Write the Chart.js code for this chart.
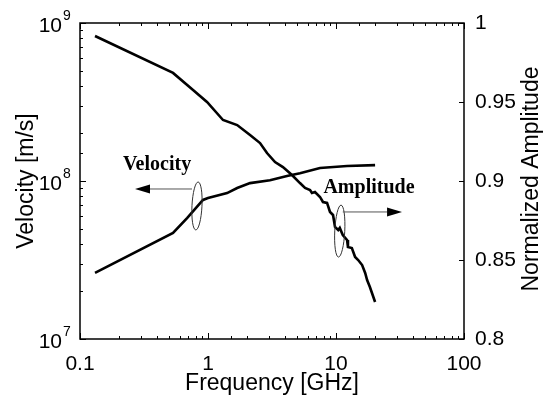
<!DOCTYPE html>
<html>
<head>
<meta charset="utf-8">
<script src="https://cdn.jsdelivr.net/npm/chart.js@4"></script>
<style>
  html, body { margin: 0; padding: 0; background: #fff; }
  #wrap { width: 545px; height: 397px; }
</style>
</head>
<body>
<div id="wrap"><canvas id="freqChart"></canvas></div>
<script>
// values
const velFreq = [0.131, 0.533, 0.686, 0.914, 1.0, 1.41, 1.69, 2.13, 3.05, 4.14, 5.23, 7.5, 12.2, 20.2];
const velocity = [2.62e7, 4.69e7, 5.83e7, 7.59e7, 7.8e7, 8.39e7, 9.03e7, 9.7e7, 1.01e8, 1.076e8, 1.12e8, 1.21e8, 1.245e8, 1.26e8];

const ampFreq = [0.131, 0.533, 0.764, 0.982, 1.31, 1.69, 2.13, 2.55, 2.89, 3.34, 3.85, 4.53, 5.23, 5.73, 6.27, 6.49, 6.85,
  7.50, 7.91, 8.51, 8.98, 9.48, 9.82, 10.4, 10.7, 11.3, 12.2, 12.4, 13.3, 14.1, 14.9, 16.0, 16.9, 17.5, 18.4, 19.1, 20.2];
const amplitude = [0.9918, 0.9684, 0.9576, 0.9500, 0.9386, 0.9354, 0.9291, 0.9240, 0.9177, 0.9120, 0.9088, 0.9038, 0.8987, 0.8956, 0.8943, 0.8924, 0.8930,
  0.8899, 0.8867, 0.8861, 0.8804, 0.8785, 0.8709, 0.8690, 0.8703, 0.8658, 0.8627, 0.8582, 0.8576, 0.8519, 0.8500, 0.8468, 0.8418, 0.8373, 0.8329, 0.8291, 0.8234];

const xTickLabels = [0.1, 1, 10, 100];
const velTickExp = [7, 8, 9];
const ampTicks = [0.8, 0.85, 0.9, 0.95, 1];
const ampTitle = 'Normalized Amplitude';

// callouts, in data coordinates
const velNote = { label: 'Velocity', axis: 'y', text: [0.40, 1.26e8], ring: [0.82, 6.95e7], from: [0.75, 8.9e7], to: [0.269, 8.9e7], ry: 24 };
const ampNote = { label: 'Amplitude', axis: 'y2', text: [18.1, 0.8956], ring: [10.7, 0.8683], from: [11.3, 0.8804], to: [32.8, 0.8804], ry: 26 };

const sans = '"Liberation Sans", Arial, sans-serif';

function isDecade(v) {
  const l = Math.log10(v);
  return Math.abs(l - Math.round(l)) < 1e-6;
}

function toXY(xs, ys) {
  return xs.map((x, i) => ({ x: x, y: ys[i] }));
}

const frameTicks = {
  id: 'frameTicks',
  afterDraw(chart) {
    const ctx = chart.ctx;
    const a = chart.chartArea;
    const xs = chart.scales.x, ys = chart.scales.y, y2 = chart.scales.y2;
    ctx.save();
    ctx.strokeStyle = '#000';
    ctx.lineWidth = 1.5;
    ctx.strokeRect(a.left, a.top, a.right - a.left, a.bottom - a.top);

    ctx.lineWidth = 1;
    ctx.beginPath();
    xs.ticks.forEach(t => {
      const px = Math.round(xs.getPixelForValue(t.value)) + 0.5;
      const len = isDecade(t.value) ? 6 : 3;
      ctx.moveTo(px, a.bottom); ctx.lineTo(px, a.bottom - len);
      ctx.moveTo(px, a.top); ctx.lineTo(px, a.top + len);
    });
    ys.ticks.forEach(t => {
      const py = Math.round(ys.getPixelForValue(t.value)) + 0.5;
      const len = isDecade(t.value) ? 6 : 3;
      ctx.moveTo(a.left, py); ctx.lineTo(a.left + len, py);
    });
    y2.ticks.forEach(t => {
      const py = Math.round(y2.getPixelForValue(t.value)) + 0.5;
      ctx.moveTo(a.right, py); ctx.lineTo(a.right - 5, py);
    });
    ctx.stroke();

    // left tick labels 10^n
    ctx.fillStyle = '#000';
    velTickExp.forEach(e => {
      const py = ys.getPixelForValue(Math.pow(10, e));
      ctx.font = '21px ' + sans;
      ctx.textAlign = 'right';
      ctx.textBaseline = 'middle';
      ctx.fillText('10', a.left - 18, py + 3);
      ctx.font = '14px ' + sans;
      ctx.textAlign = 'left';
      ctx.fillText(String(e), a.left - 17, py - 7);
    });

    // right axis title reads bottom-to-top like the left one
    ctx.translate(y2.right - 13, (a.top + a.bottom) / 2 - 2);
    ctx.rotate(-Math.PI / 2);
    ctx.font = '23px ' + sans;
    ctx.textAlign = 'center';
    ctx.textBaseline = 'middle';
    ctx.fillText(ampTitle, 0, 0);
    ctx.restore();
  }
};

function drawNote(chart, n) {
  const ctx = chart.ctx;
  const xs = chart.scales.x, ys = chart.scales[n.axis];
  const pt = p => [xs.getPixelForValue(p[0]), ys.getPixelForValue(p[1])];
  const t = pt(n.text), r = pt(n.ring), f = pt(n.from), e = pt(n.to);
  ctx.save();
  ctx.fillStyle = '#000';
  ctx.font = 'bold 20px "Liberation Serif", "Times New Roman", serif';
  ctx.textAlign = 'center';
  ctx.textBaseline = 'middle';
  ctx.fillText(n.label, t[0], t[1]);

  ctx.strokeStyle = '#333';
  ctx.lineWidth = 1;
  ctx.beginPath();
  ctx.ellipse(r[0], r[1], 5, n.ry, 0.05, 0, Math.PI * 2);
  ctx.stroke();

  const dir = Math.sign(e[0] - f[0]);
  const head = 15;
  ctx.strokeStyle = '#555';
  ctx.beginPath();
  ctx.moveTo(f[0], f[1]);
  ctx.lineTo(e[0] - dir * head, e[1]);
  ctx.stroke();
  ctx.beginPath();
  ctx.moveTo(e[0], e[1]);
  ctx.lineTo(e[0] - dir * head, e[1] - 4.5);
  ctx.lineTo(e[0] - dir * head, e[1] + 4.5);
  ctx.closePath();
  ctx.fill();
  ctx.restore();
}

const callouts = {
  id: 'callouts',
  afterDatasetsDraw(chart) {
    drawNote(chart, velNote);
    drawNote(chart, ampNote);
  }
};

new Chart(document.getElementById('freqChart'), {
  type: 'line',
  data: {
    datasets: [
      { label: 'Velocity', data: toXY(velFreq, velocity), yAxisID: 'y', borderColor: '#000', borderWidth: 2.6, pointRadius: 0, tension: 0 },
      { label: 'Amplitude', data: toXY(ampFreq, amplitude), yAxisID: 'y2', borderColor: '#000', borderWidth: 2.6, pointRadius: 0, tension: 0 }
    ]
  },
  options: {
    responsive: true,
    maintainAspectRatio: false,
    animation: false,
    layout: { padding: { top: 23, left: 0, right: 0, bottom: 0 } },
    plugins: { legend: { display: false }, tooltip: { enabled: false } },
    scales: {
      x: {
        type: 'logarithmic',
        min: 0.1, max: 100,
        grid: { display: false },
        border: { display: false },
        ticks: {
          autoSkip: false, maxRotation: 0, padding: 5,
          color: '#000', font: { family: sans, size: 21 },
          callback: v => xTickLabels.includes(+v.toPrecision(3)) && isDecade(v) ? String(+v.toPrecision(3)) : ''
        },
        title: { display: true, text: 'Frequency [GHz]', color: '#000', font: { family: sans, size: 23 }, padding: 0 },
        afterFit: s => { s.height = 58; }
      },
      y: {
        type: 'logarithmic',
        position: 'left',
        min: 1e7, max: 1e9,
        grid: { display: false },
        border: { display: false },
        ticks: { display: false },
        title: { display: true, text: 'Velocity [m/s]', color: '#000', font: { family: sans, size: 23 }, padding: { top: 13 } },
        afterFit: s => { s.width = 80; }
      },
      y2: {
        type: 'linear',
        position: 'right',
        min: 0.8, max: 1,
        grid: { display: false },
        border: { display: false },
        afterBuildTicks: s => { s.ticks = ampTicks.map(v => ({ value: v })); },
        ticks: {
          padding: 3,
          color: '#000', font: { family: sans, size: 21 },
          callback: v => String(+v.toFixed(2))
        },
        title: { display: false },
        afterFit: s => { s.width = 81; }
      }
    }
  },
  plugins: [callouts, frameTicks]
});
</script>
</body>
</html>
